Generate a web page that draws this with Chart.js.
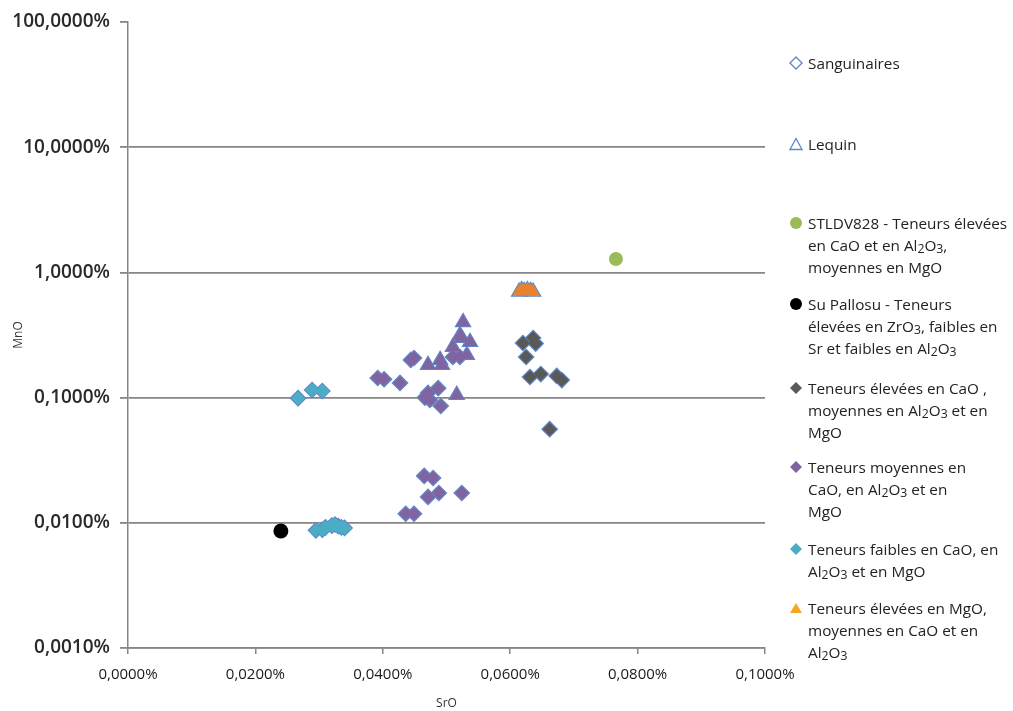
<!DOCTYPE html>
<html>
<head>
<meta charset="utf-8">
<script src="https://cdn.jsdelivr.net/npm/chart.js@4.4.1/dist/chart.umd.min.js"></script>
<style>
  body { margin: 0; background: #fff; }
  #wrap { position: absolute; left: 0; top: 0; width: 1013px; height: 711px; }
  .leg { position: absolute; left: 789px; font-family: "Open Sans", sans-serif; font-size: 15.3px; line-height: 22px; color: #222; white-space: nowrap; }
  .leg svg { position: absolute; left: 0; top: 4px; }
  .leg span { display: block; margin-left: 19px; }
  .leg sub { font-size: 0.8em; vertical-align: -0.2em; line-height: 0; }
</style>
</head>
<body>
<div id="wrap"><canvas id="srMnChart"></canvas></div>

<div class="leg" style="top:52px">
  <svg width="14" height="14"><path d="M7 1 L13 7 L7 13 L1 7 Z" fill="none" stroke="#5b87c9" stroke-width="1.3"/></svg>
  <span>Sanguinaires</span>
</div>
<div class="leg" style="top:133px">
  <svg width="14" height="14"><path d="M7 1.5 L13 12.5 L1 12.5 Z" fill="none" stroke="#5b87c9" stroke-width="1.3"/></svg>
  <span>Lequin</span>
</div>
<div class="leg" style="top:212px">
  <svg width="14" height="14"><circle cx="7" cy="7" r="6" fill="#9bbb59"/></svg>
  <span>STLDV828 - Teneurs élevées<br>en CaO et en Al<sub>2</sub>O<sub>3</sub>,<br>moyennes en MgO</span>
</div>
<div class="leg" style="top:293px">
  <svg width="14" height="14"><circle cx="7" cy="7" r="6" fill="#000"/></svg>
  <span>Su Pallosu - Teneurs<br>élevées en ZrO<sub>3</sub>, faibles en<br>Sr et faibles en Al<sub>2</sub>O<sub>3</sub></span>
</div>
<div class="leg" style="top:377px">
  <svg width="14" height="14"><path d="M7 1 L13 7 L7 13 L1 7 Z" fill="#595959"/></svg>
  <span>Teneurs élevées en CaO ,<br>moyennes en Al<sub>2</sub>O<sub>3</sub> et en<br>MgO</span>
</div>
<div class="leg" style="top:456px">
  <svg width="14" height="14"><path d="M7 1 L13 7 L7 13 L1 7 Z" fill="#8064a2"/></svg>
  <span>Teneurs moyennes en<br>CaO, en Al<sub>2</sub>O<sub>3</sub> et en<br>MgO</span>
</div>
<div class="leg" style="top:538px">
  <svg width="14" height="14"><path d="M7 1 L13 7 L7 13 L1 7 Z" fill="#4bacc6"/></svg>
  <span>Teneurs faibles en CaO, en<br>Al<sub>2</sub>O<sub>3</sub> et en MgO</span>
</div>
<div class="leg" style="top:597px">
  <svg width="14" height="14"><path d="M7 2 L13 12 L1 12 Z" fill="#f5a623"/></svg>
  <span>Teneurs élevées en MgO,<br>moyennes en CaO et en<br>Al<sub>2</sub>O<sub>3</sub></span>
</div>

<script>
// axis ticks (values in %)
const xTicks = [0, 0.02, 0.04, 0.06, 0.08, 0.1];
const yTicks = [0.001, 0.01, 0.1, 1, 10, 100];

// STLDV828
const stldvSrO = [0.0766];
const stldvMnO = [1.28];

// Su Pallosu
const palloSrO = [0.0240];
const palloMnO = [0.0086];

// teneurs elevees en CaO (gris)
const highCaSrO = [0.0620, 0.0636, 0.0640, 0.0625, 0.0631, 0.0648, 0.0673, 0.0681, 0.0662];
const highCaMnO = [0.273, 0.299, 0.270, 0.211, 0.146, 0.154, 0.149, 0.138, 0.056];

// teneurs moyennes (violet) - losanges
const midDiaSrO = [0.0392, 0.0402, 0.0427, 0.0444, 0.0449, 0.0466, 0.0474, 0.0471, 0.0487, 0.0491, 0.0510, 0.0521,
                   0.0465, 0.0479, 0.0471, 0.0488, 0.0524, 0.0436, 0.0449];
const midDiaMnO = [0.1435, 0.140, 0.131, 0.200, 0.207, 0.100, 0.0957, 0.109, 0.119, 0.0857, 0.211, 0.211,
                   0.0237, 0.0228, 0.0161, 0.0173, 0.0173, 0.0118, 0.0118];
// teneurs moyennes (violet) - triangles
const midTriSrO = [0.0471, 0.0490, 0.0493, 0.0516, 0.0526, 0.0524, 0.0537, 0.0532, 0.0521, 0.0510];
const midTriMnO = [0.182, 0.200, 0.182, 0.105, 0.40, 0.299, 0.278, 0.219, 0.315, 0.254];

// teneurs faibles (bleu-vert)
const lowSrO = [0.0267, 0.0289, 0.0305, 0.0295, 0.0305, 0.0310, 0.0320, 0.0325, 0.0330, 0.0335, 0.0340];
const lowMnO = [0.099, 0.115, 0.113, 0.0087, 0.0088, 0.0092, 0.0095, 0.0097, 0.0094, 0.0092, 0.0091];

// teneurs elevees en MgO (orange)
const highMgSrO = [0.0614, 0.0618, 0.0622, 0.0627, 0.0632, 0.0636];
const highMgMnO = [0.70, 0.72, 0.71, 0.72, 0.71, 0.70];

const pts = (xs, ys) => xs.map((x, i) => ({ x: x, y: ys[i] }));
const fmt = (v) => v.toFixed(4).replace(".", ",") + "%";

const sangPts = [].concat(pts(highCaSrO, highCaMnO), pts(midDiaSrO, midDiaMnO), pts(lowSrO, lowMnO));
const lequinPts = [].concat(pts(midTriSrO, midTriMnO), pts(highMgSrO, highMgMnO));
const midPts = [].concat(pts(midDiaSrO, midDiaMnO), pts(midTriSrO, midTriMnO));
const midStyles = midPts.map((_, i) => (i < midDiaSrO.length ? "rectRot" : "triangle"));
const midRadius = midPts.map((_, i) => (i < midDiaSrO.length ? 7 : 8));

const gridCol = "#868686";

const ctx = document.getElementById("srMnChart").getContext("2d");
new Chart(ctx, {
  type: "scatter",
  data: {
    datasets: [
      { label: "Sanguinaires", data: sangPts, pointStyle: "rectRot", pointRadius: 7.5,
        backgroundColor: "#fff", borderColor: "#5b87c9", borderWidth: 1.5, order: 3 },
      { label: "Lequin", data: lequinPts, pointStyle: "triangle", pointRadius: 8.5,
        backgroundColor: "#fff", borderColor: "#5b87c9", borderWidth: 1.5, order: 3 },
      { label: "STLDV828", data: pts(stldvSrO, stldvMnO), pointStyle: "circle", pointRadius: 7,
        backgroundColor: "#9bbb59", borderWidth: 0, order: 1 },
      { label: "Su Pallosu", data: pts(palloSrO, palloMnO), pointStyle: "circle", pointRadius: 7.5,
        backgroundColor: "#000", borderWidth: 0, order: 1 },
      { label: "Teneurs élevées en CaO", data: pts(highCaSrO, highCaMnO), pointStyle: "rectRot", pointRadius: 7,
        backgroundColor: "#595959", borderWidth: 0, order: 1 },
      { label: "Teneurs moyennes", data: midPts, pointStyle: midStyles, pointRadius: midRadius,
        backgroundColor: "#8064a2", borderWidth: 0, order: 1 },
      { label: "Teneurs faibles", data: pts(lowSrO, lowMnO), pointStyle: "rectRot", pointRadius: 7,
        backgroundColor: "#4bacc6", borderWidth: 0, order: 1 },
      { label: "Teneurs élevées en MgO", data: pts(highMgSrO, highMgMnO), pointStyle: "triangle", pointRadius: 8,
        backgroundColor: "#e8822e", borderWidth: 0, order: 1 },
    ],
  },
  options: {
    responsive: true,
    maintainAspectRatio: false,
    animation: false,
    layout: { padding: { top: 22, right: 248, left: 0, bottom: 0 } },
    plugins: {
      legend: { display: false },
      tooltip: { enabled: false },
    },
    scales: {
      x: {
        type: "linear",
        min: 0,
        max: 0.1,
        afterBuildTicks: (s) => { s.ticks = xTicks.map((v) => ({ value: v })); },
        afterFit: (s) => { s.height = 63; },
        ticks: {
          callback: (v) => fmt(v),
          font: { family: "Open Sans", size: 15 },
          color: "#1a1a1a",
          padding: 12,
          autoSkip: false,
          maxRotation: 0,
        },
        grid: { drawOnChartArea: false, tickLength: 6, color: gridCol, lineWidth: 1.5 },
        border: { color: gridCol, width: 1.5 },
        title: { display: true, text: "SrO", font: { family: "Open Sans", size: 12 }, color: "#333", padding: { top: 0, bottom: 0 } },
      },
      y: {
        type: "logarithmic",
        min: 0.001,
        max: 100,
        afterBuildTicks: (s) => { s.ticks = yTicks.map((v) => ({ value: v })); },
        afterFit: (s) => { s.width = 128; },
        ticks: {
          callback: (v) => fmt(v),
          font: { family: "Open Sans", size: 19, weight: "600" },
          color: "#2a2a2a",
          padding: 10,
          autoSkip: false,
        },
        grid: {
          color: (c) => (c.tick && c.tick.value === 100 ? "rgba(0,0,0,0)" : gridCol),
          tickColor: gridCol,
          lineWidth: 1.8,
          tickLength: 8,
        },
        border: { color: gridCol, width: 1.5 },
        title: { display: true, text: "MnO", font: { family: "Open Sans", size: 12 }, color: "#333", padding: { top: 11, bottom: 0 } },
      },
    },
  },
});
</script>
</body>
</html>
